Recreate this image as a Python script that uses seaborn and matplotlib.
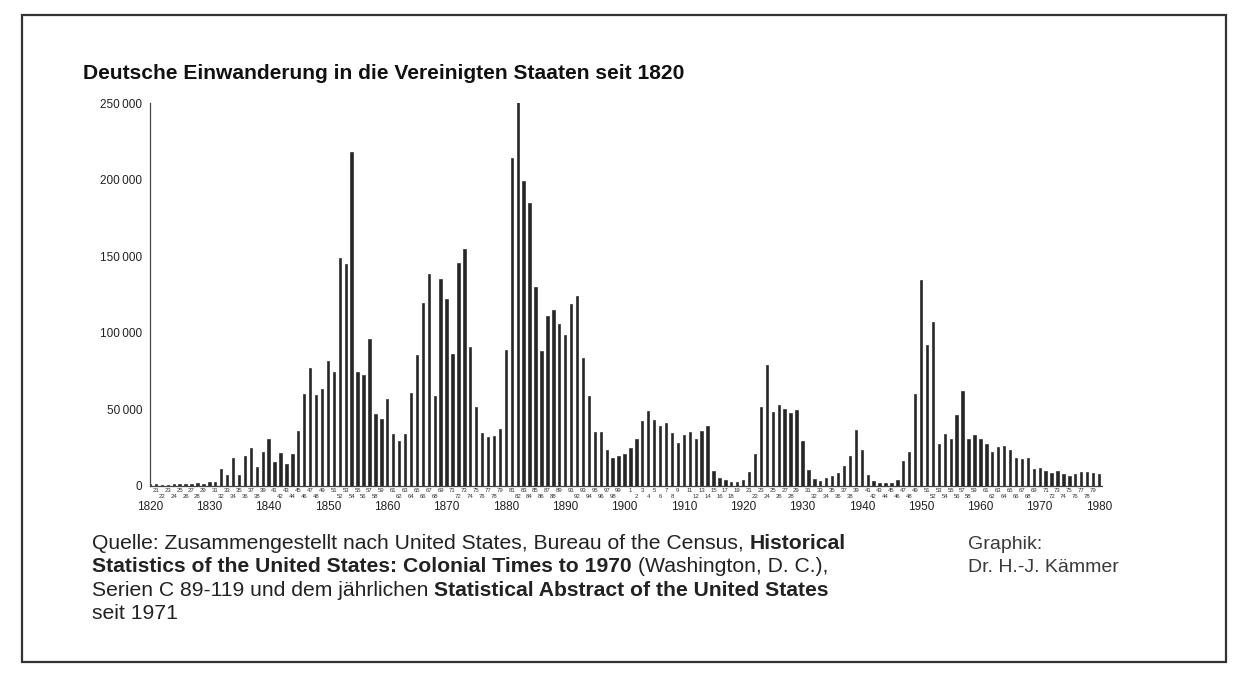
import numpy as np
import matplotlib
matplotlib.use('Agg')
import matplotlib.pyplot as plt
from matplotlib.patches import Rectangle
import pandas as pd
import seaborn as sns

# German immigration to the USA, 1820-1980
years = list(range(1820, 1981))
immigrants = [
    1000, 1200, 900, 900, 1000, 1300, 1300, 1200, 2000, 1400,            # 1820-29
    2800, 2400, 11000, 7300, 18000, 7300, 19800, 24500, 12500, 22000,    # 1830-39
    30600, 15600, 21600, 14300, 20700, 36100, 60000, 76700, 59700, 63000,  # 1840-49
    81500, 74500, 149000, 145000, 217700, 74500, 72700, 95800, 47100, 43600,  # 1850-59
    57000, 33900, 29300, 34100, 60400, 85500, 119600, 138300, 59000, 135000,  # 1860-69
    122300, 85900, 145500, 154800, 91000, 51800, 34800, 31700, 32400, 37000,  # 1870-79
    88800, 214300, 253000, 198900, 184600, 130000, 87900, 110800, 114800, 105500,  # 1880-89
    98500, 119000, 124200, 83300, 58800, 35200, 35200, 23800, 18500, 19500,  # 1890-99
    21000, 24800, 30500, 42500, 48900, 43400, 39200, 41200, 34600, 28000,  # 1900-09
    33500, 35000, 30600, 36100, 39400, 10100, 5300, 4000, 2400, 2400,    # 1910-19
    3700, 9000, 21100, 51500, 78800, 48500, 52600, 50400, 47700, 49900,  # 1920-29
    29300, 10600, 4400, 3100, 5300, 6400, 8800, 12800, 19400, 36700,     # 1930-39
    23800, 7000, 3300, 2200, 2200, 2200, 4200, 16100, 22400, 59800,      # 1940-49
    134500, 92000, 107100, 27700, 33900, 30600, 46200, 62300, 30400, 33000,  # 1950-59
    31000, 27100, 22200, 25700, 26000, 23300, 18500, 17400, 18000, 11000,  # 1960-69
    11900, 10100, 8600, 9500, 8100, 6600, 7900, 9200, 9200, 8800,        # 1970-79
    7700,                                                                # 1980
]
decades = list(range(1820, 1981, 10))
yticks = [0, 50000, 100000, 150000, 200000, 250000]
ytick_labels = ['0', '50\u2009000', '100\u2009000', '150\u2009000', '200\u2009000', '250\u2009000']

title = 'Deutsche Einwanderung in die Vereinigten Staaten seit 1820'
source_lines = [
    [('Quelle: Zusammengestellt nach United States, Bureau of the Census,', False),
     ('Historical', True)],
    [('Statistics of the United States: Colonial Times to 1970', True),
     ('(Washington, D. C.),', False)],
    [('Serien C 89-119 und dem jährlichen', False),
     ('Statistical Abstract of the United States', True)],
    [('seit 1971', False)],
]
credit_lines = ['Graphik:', 'Dr. H.-J. Kämmer']

data = pd.DataFrame({'Jahr': years, 'Einwanderer': immigrants})

sns.set_style('white')
plt.rcParams['font.family'] = ['Liberation Sans', 'DejaVu Sans']
ink = '#222222'
bar_col = '#262626'

W, H = 1239, 682
fig = plt.figure(figsize=(W / 100, H / 100), dpi=100)
fig.patch.set_facecolor('white')
ax = fig.add_axes([150 / W, 1 - 486 / H, 952 / W, 383 / H])

sns.barplot(data=data, x='Jahr', y='Einwanderer', native_scale=True,
            color=bar_col, saturation=1, width=0.4, ax=ax,
            edgecolor=bar_col, linewidth=0.45)

ax.set_xlim(1820, 1980.5)
ax.set_ylim(0, 250000)
ax.set_xlabel('')
ax.set_ylabel('')
sns.despine(ax=ax)
for s in ['left', 'bottom']:
    ax.spines[s].set_color('#444444')
    ax.spines[s].set_linewidth(0.9)

# y axis
ax.set_yticks(yticks)
ax.set_yticklabels(ytick_labels, fontsize=8.5, color=ink)
ax.set_yticks(np.arange(0, 250001, 10000), minor=True)
ax.tick_params(axis='y', which='major', direction='inout', length=8, width=0.8,
               pad=1.5, color='#444444')
ax.tick_params(axis='y', which='minor', direction='in', length=3.5, width=0.7,
               color='#444444')

# x axis: decade dividers with labels, small year numbers in two rows
ax.set_xticks(decades)
ax.set_xticklabels([str(d) for d in decades], fontsize=8.5, color=ink)
ax.tick_params(axis='x', which='major', direction='out', length=9, width=0.8,
               pad=1.5, color='#444444')
ax.tick_params(axis='x', which='minor', length=0)
xt = ax.get_xaxis_transform()
for yr in years:
    if yr % 10 == 0:
        continue
    row = -4.2 / 383 if yr % 2 == 1 else -10.5 / 383
    ax.text(yr, row, str(yr % 100), transform=xt, fontsize=4.3, color='#333333',
            ha='center', va='center')

# title
fig.text(83 / W, 1 - 79 / H, title, fontsize=15.1, fontweight='bold',
         color='#111111', ha='left', va='baseline')

# source text with bold parts
renderer = fig.canvas.get_renderer()
src_size = 15.2
probe = fig.text(0, 0, 'x x', fontsize=src_size)
w2 = probe.get_window_extent(renderer).width
probe.set_text('xx')
space_w = w2 - probe.get_window_extent(renderer).width
probe.remove()

baselines = [549, 572, 596, 619]
for parts, base in zip(source_lines, baselines):
    x = 92
    for txt, bold in parts:
        t = fig.text(x / W, 1 - base / H, txt, fontsize=src_size,
                     fontweight='bold' if bold else 'normal', color=ink,
                     ha='left', va='baseline')
        x += t.get_window_extent(renderer).width + space_w

for line, base in zip(credit_lines, [549, 572]):
    fig.text(968 / W, 1 - base / H, line, fontsize=14, color='#3a3a3a',
             ha='left', va='baseline')

# frame around the whole graphic
fig.patches.append(Rectangle((22 / W, 1 - 662 / H), (1226 - 22) / W, (662 - 15) / H,
                             transform=fig.transFigure, fill=False,
                             lw=1.6, ec='#333333'))

plt.savefig('out.png', dpi=100)
plt.close()
